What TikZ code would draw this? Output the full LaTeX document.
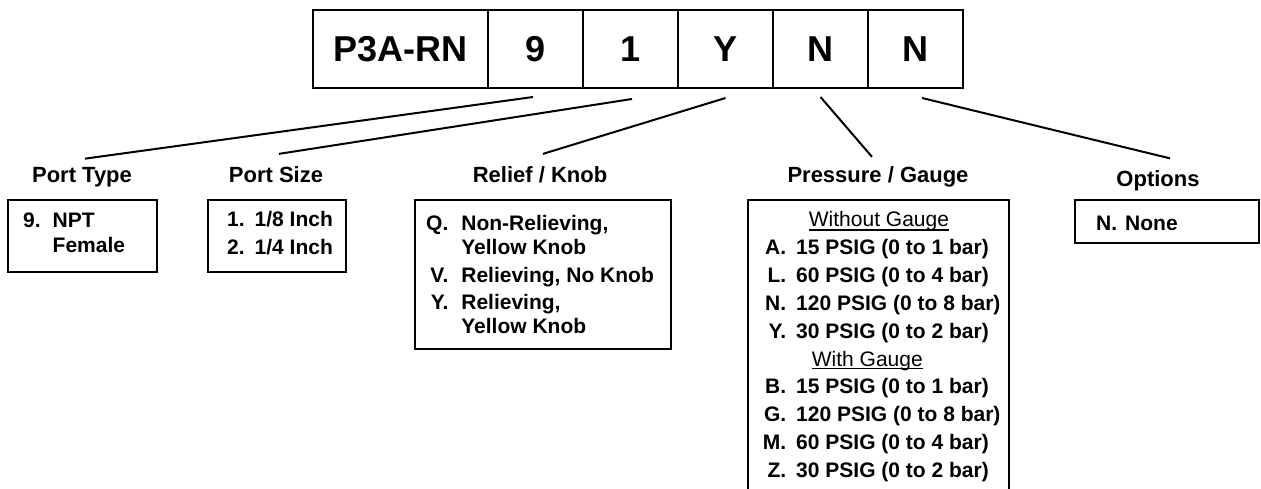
\documentclass[tikz,border=0pt]{standalone}
\usepackage{fontspec}
\setmainfont{Liberation Sans}
\usetikzlibrary{positioning}
\newcommand{\ulHead}[1]{\setbox0\hbox{#1}\rlap{\rule[-3.5pt]{\wd0}{1.4pt}}\box0}

\begin{document}
\begin{tikzpicture}[
    x=1pt,y=-1pt,
    codeCell/.style={draw,line width=2pt,inner sep=0pt,outer sep=0pt,
                     minimum width=95pt,minimum height=78pt,
                     font=\fontsize{36}{40}\selectfont\bfseries},
    fieldLabel/.style={inner sep=0pt,anchor=base,
                       font=\fontsize{22}{26}\selectfont\bfseries},
    listBox/.style={draw,line width=2pt,inner sep=0pt,outer sep=0pt,
                    anchor=north west},
    listText/.style={inner sep=0pt,anchor=base west,
                     font=\fontsize{21}{24.5}\selectfont\bfseries},
    leadLine/.style={line width=2pt}
  ]

    % Page frame
    \fill[white] (0,0) rectangle (1261,489);
    \useasboundingbox (0,0) rectangle (1261,489);
    \clip (0,0) rectangle (1261,489);

    % Part number cells
    \node(c0)[codeCell,minimum width=175pt] at (400.5,49) {P3A-RN};
    \node(c1)[codeCell,right=0pt of c0] {9};
    \node(c2)[codeCell,right=0pt of c1] {1};
    \node(c3)[codeCell,right=0pt of c2] {Y};
    \node(c4)[codeCell,right=0pt of c3] {N};
    \node(c5)[codeCell,right=0pt of c4] {N};

    % Field headings
    \node(ptLbl)[fieldLabel] at (82,183) {Port Type};
    \node(psLbl)[fieldLabel] at (276,183) {Port Size};
    \node(rkLbl)[fieldLabel] at (540,183) {Relief / Knob};
    \node(pgLbl)[fieldLabel] at (878,183) {Pressure / Gauge};
    \node(opLbl)[fieldLabel] at (1158,187) {Options};

    % Port Type
    \node(ptBox)[listBox,minimum width=149pt,minimum height=72pt] at (8,200) {};
    \node(ptList)[listText] at (23,228) {%
      \begin{tabular}[t]{@{}r@{\hspace{12pt}}l@{}}
        9. & NPT\\
           & Female
      \end{tabular}};

    % Port Size
    \node(psBox)[listBox,minimum width=138pt,minimum height=72pt] at (208,200) {};
    \node(psList)[listText] at (227,227) {%
      \begin{tabular}[t]{@{}r@{\hspace{10pt}}l@{}}
        1. & 1/8 Inch\\[3pt]
        2. & 1/4 Inch
      \end{tabular}};

    % Relief / Knob
    \node(rkBox)[listBox,minimum width=256pt,minimum height=149pt] at (415,200) {};
    \node(rkList)[listText] at (426,230) {%
      \begin{tabular}[t]{@{}r@{\hspace{13pt}}l@{}}
        Q. & Non-Relieving,\\
           & Yellow Knob\\[3pt]
        V. & Relieving, No Knob\\[3pt]
        Y. & Relieving,\\
           & Yellow Knob
      \end{tabular}};

    % Pressure / Gauge (runs off the page)
    \node(pgBox)[listBox,minimum width=261pt,minimum height=320pt] at (748,200) {};
    \node(pgList)[listText,font=\fontsize{21}{24.8}\selectfont\bfseries] at (762.7,227) {%
      \begin{tabular}[t]{@{}r@{\hspace{10pt}}l@{}}
        \multicolumn{2}{@{}l@{}}{\hspace*{46pt}\mdseries\ulHead{Without Gauge}}\\[3pt]
        A. & 15 PSIG (0 to 1 bar)\\[3pt]
        L. & 60 PSIG (0 to 4 bar)\\[3pt]
        N. & 120 PSIG (0 to 8 bar)\\[3pt]
        Y. & 30 PSIG (0 to 2 bar)\\[3pt]
        \multicolumn{2}{@{}l@{}}{\hspace*{49pt}\mdseries\ulHead{With Gauge}}\\[3pt]
        B. & 15 PSIG (0 to 1 bar)\\[3pt]
        G. & 120 PSIG (0 to 8 bar)\\[3pt]
        M. & 60 PSIG (0 to 4 bar)\\[3pt]
        Z. & 30 PSIG (0 to 2 bar)
      \end{tabular}};

    % Options
    \node(opBox)[listBox,minimum width=184pt,minimum height=43pt] at (1075,200) {};
    \node(opList)[listText] at (1096,231) {%
      \begin{tabular}[t]{@{}r@{\hspace{8pt}}l@{}}
        N. & None
      \end{tabular}};

    % Leader lines
    \coordinate(t1) at ([shift={(-2.5pt,-9pt)}]c1.south);
    \coordinate(t2) at ([shift={(1.5pt,-11pt)}]c2.south);
    \coordinate(t3) at ([yshift=-10pt]c3.south);
    \coordinate(t4) at ([yshift=-9pt]c4.south);
    \coordinate(t5) at ([shift={(6.5pt,-10pt)}]c5.south);
    \coordinate(b1) at ([shift={(3pt,9pt)}]ptLbl.north);
    \coordinate(b2) at ([shift={(3pt,13pt)}]psLbl.north);
    \coordinate(b3) at ([shift={(3pt,13pt)}]rkLbl.north);
    \coordinate(b4) at ([shift={(-6pt,10pt)}]pgLbl.north);
    \coordinate(b5) at ([shift={(12pt,12.5pt)}]opLbl.north);
    \foreach \i in {1,...,5}
      \draw[leadLine] (t\i) -- (b\i);
  \end{tikzpicture}
\end{document}
